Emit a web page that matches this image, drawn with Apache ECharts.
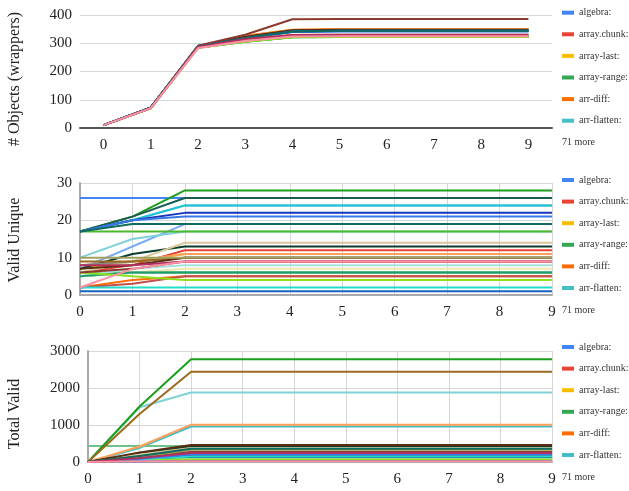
<!DOCTYPE html>
<html lang="en">
<head>
    <meta charset="UTF-8">
    <title>Objects / Valid Unique / Total Valid</title>
    <script type="text/javascript" src="https://cdn.jsdelivr.net/npm/echarts@6/dist/echarts.min.js"></script>
    <style>
        html, body { margin: 0; padding: 0; background: #fff; }
    </style>
</head>
<body>
<div id="main" style="width:629px;height:491px;"></div>
<script>
    // x steps shared by all three panels
    const steps = ['0', '1', '2', '3', '4', '5', '6', '7', '8', '9'];

    const seriesNames = [
        'algebra:', 'array.chunk:', 'array-last:', 'array-range:', 'arr-diff:', 'arr-flatten:',
        'pkg-7', 'pkg-8', 'pkg-9', 'pkg-10', 'pkg-11', 'pkg-12', 'pkg-13', 'pkg-14', 'pkg-15',
        'pkg-16', 'pkg-17', 'pkg-18', 'pkg-19', 'pkg-20', 'pkg-21', 'pkg-22', 'pkg-23', 'pkg-24',
        'pkg-25', 'pkg-26', 'pkg-27', 'pkg-28', 'pkg-29', 'pkg-30', 'pkg-31', 'pkg-32', 'pkg-33'
    ];
    const legendNames = seriesNames.slice(0, 6);
    const moreLabel = '71 more';

    // # Objects (wrappers)
    const objectsRows = [
        [10, 72, 288, 318, 340, 342, 342, 342, 342, 342],
        [10, 72, 290, 324, 346, 348, 348, 348, 348, 348],
        [10, 72, 290, 325, 347, 349, 349, 349, 349, 349],
        [10, 70, 284, 305, 321, 322, 322, 322, 322, 322],
        [10, 72, 290, 327, 348, 350, 350, 350, 350, 350],
        [10, 72, 289, 321, 344, 346, 346, 346, 346, 346],
        [10, 72, 288, 318, 340, 342, 342, 342, 342, 342],
        [10, 71, 287, 312, 327, 328, 328, 328, 328, 328],
        [10, 71, 286, 310, 326, 327, 327, 327, 327, 327],
        [10, 70, 284, 305, 321, 322, 322, 322, 322, 322],
        [10, 72, 290, 326, 347, 349, 349, 349, 349, 349],
        [10, 72, 288, 320, 343, 345, 345, 345, 345, 345],
        [10, 71, 287, 313, 328, 329, 329, 329, 329, 329],
        [10, 72, 288, 319, 342, 344, 344, 344, 344, 344],
        [10, 72, 289, 321, 344, 346, 346, 346, 346, 346],
        [10, 72, 288, 318, 341, 343, 343, 343, 343, 343],
        [10, 72, 289, 320, 343, 345, 345, 345, 345, 345],
        [10, 70, 285, 306, 322, 323, 323, 323, 323, 323],
        [10, 71, 287, 314, 330, 331, 331, 331, 331, 331],
        [10, 72, 288, 319, 342, 344, 344, 344, 344, 344],
        [10, 71, 286, 311, 326, 327, 327, 327, 327, 327],
        [10, 70, 285, 306, 322, 323, 323, 323, 323, 323],
        [10, 70, 284, 305, 321, 322, 322, 322, 322, 322],
        [10, 72, 289, 321, 344, 346, 346, 346, 346, 346],
        [10, 72, 290, 322, 345, 347, 347, 347, 347, 347],
        [10, 72, 290, 323, 346, 348, 348, 348, 348, 348],
        [10, 72, 291, 330, 385, 386, 386, 386, 386, 386],
        [10, 71, 287, 312, 328, 329, 329, 329, 329, 329],
        [10, 72, 288, 318, 341, 343, 343, 343, 343, 343],
        [10, 72, 288, 319, 342, 344, 344, 344, 344, 344],
        [10, 72, 288, 319, 342, 344, 344, 344, 344, 344],
        [10, 71, 287, 315, 329, 330, 330, 330, 330, 330],
        [10, 70, 283, 308, 324, 325, 325, 325, 325, 325]
    ];

    // Valid Unique
    const uniqueRows = [
        [26, 26, 26, 26, 26, 26, 26, 26, 26, 26],
        [6, 8, 12, 12, 12, 12, 12, 12, 12, 12],
        [7, 9, 11, 11, 11, 11, 11, 11, 11, 11],
        [5, 6, 6, 6, 6, 6, 6, 6, 6, 6],
        [2, 4, 5, 5, 5, 5, 5, 5, 5, 5],
        [17, 20, 24, 24, 24, 24, 24, 24, 24, 24],
        [7, 13, 19, 19, 19, 19, 19, 19, 19, 19],
        [2, 3, 5, 5, 5, 5, 5, 5, 5, 5],
        [5, 6, 7, 7, 7, 7, 7, 7, 7, 7],
        [6, 6, 6, 6, 6, 6, 6, 6, 6, 6],
        [8, 9, 11, 11, 11, 11, 11, 11, 11, 11],
        [10, 15, 17, 17, 17, 17, 17, 17, 17, 17],
        [17, 21, 28, 28, 28, 28, 28, 28, 28, 28],
        [17, 21, 26, 26, 26, 26, 26, 26, 26, 26],
        [17, 20, 24, 24, 24, 24, 24, 24, 24, 24],
        [17, 20, 22, 22, 22, 22, 22, 22, 22, 22],
        [7, 11, 13, 13, 13, 13, 13, 13, 13, 13],
        [17, 17, 17, 17, 17, 17, 17, 17, 17, 17],
        [6, 9, 14, 14, 14, 14, 14, 14, 14, 14],
        [8, 9, 10, 10, 10, 10, 10, 10, 10, 10],
        [5, 7, 8, 8, 8, 8, 8, 8, 8, 8],
        [5, 6, 6, 6, 6, 6, 6, 6, 6, 6],
        [6, 5, 4, 4, 4, 4, 4, 4, 4, 4],
        [2, 2, 2, 2, 2, 2, 2, 2, 2, 2],
        [9, 9, 10, 10, 10, 10, 10, 10, 10, 10],
        [7, 8, 10, 10, 10, 10, 10, 10, 10, 10],
        [6, 7, 9, 9, 9, 9, 9, 9, 9, 9],
        [10, 10, 10, 10, 10, 10, 10, 10, 10, 10],
        [17, 20, 21, 21, 21, 21, 21, 21, 21, 21],
        [1, 1, 1, 1, 1, 1, 1, 1, 1, 1],
        [17, 19, 19, 19, 19, 19, 19, 19, 19, 19],
        [8, 8, 9, 9, 9, 9, 9, 9, 9, 9],
        [2, 7, 9, 9, 9, 9, 9, 9, 9, 9]
    ];

    // Total Valid
    const totalRows = [
        [0, 60, 120, 120, 120, 120, 120, 120, 120, 120],
        [0, 100, 200, 200, 200, 200, 200, 200, 200, 200],
        [0, 150, 300, 300, 300, 300, 300, 300, 300, 300],
        [0, 80, 160, 160, 160, 160, 160, 160, 160, 160],
        [0, 90, 250, 250, 250, 250, 250, 250, 250, 250],
        [0, 380, 960, 960, 960, 960, 960, 960, 960, 960],
        [0, 50, 150, 150, 150, 150, 150, 150, 150, 150],
        [0, 100, 230, 230, 230, 230, 230, 230, 230, 230],
        [0, 120, 320, 320, 320, 320, 320, 320, 320, 320],
        [430, 430, 430, 430, 430, 430, 430, 430, 430, 430],
        [0, 420, 1010, 1010, 1010, 1010, 1010, 1010, 1010, 1010],
        [0, 1480, 1880, 1880, 1880, 1880, 1880, 1880, 1880, 1880],
        [0, 1500, 2780, 2780, 2780, 2780, 2780, 2780, 2780, 2780],
        [0, 180, 350, 350, 350, 350, 350, 350, 350, 350],
        [0, 70, 140, 140, 140, 140, 140, 140, 140, 140],
        [0, 60, 110, 110, 110, 110, 110, 110, 110, 110],
        [0, 230, 420, 420, 420, 420, 420, 420, 420, 420],
        [0, 50, 90, 90, 90, 90, 90, 90, 90, 90],
        [0, 200, 380, 380, 380, 380, 380, 380, 380, 380],
        [0, 120, 260, 260, 260, 260, 260, 260, 260, 260],
        [0, 40, 80, 80, 80, 80, 80, 80, 80, 80],
        [0, 100, 180, 180, 180, 180, 180, 180, 180, 180],
        [0, 40, 70, 70, 70, 70, 70, 70, 70, 70],
        [0, 80, 150, 150, 150, 150, 150, 150, 150, 150],
        [0, 1300, 2440, 2440, 2440, 2440, 2440, 2440, 2440, 2440],
        [0, 260, 460, 460, 460, 460, 460, 460, 460, 460],
        [0, 150, 270, 270, 270, 270, 270, 270, 270, 270],
        [0, 130, 330, 330, 330, 330, 330, 330, 330, 330],
        [0, 90, 200, 200, 200, 200, 200, 200, 200, 200],
        [0, 20, 30, 30, 30, 30, 30, 30, 30, 30],
        [0, 160, 360, 360, 360, 360, 360, 360, 360, 360],
        [0, 110, 240, 240, 240, 240, 240, 240, 240, 240],
        [0, 20, 20, 20, 20, 20, 20, 20, 20, 20]
    ];

    const palette = [
        '#4285F4', '#EA4335', '#FBBC04', '#34A853', '#FF6D01', '#46BDC6',
        '#7BAAF7', '#C0504D', '#EEE8AA', '#71C287', '#FFA15A', '#7ED1D7',
        '#1AA01A', '#1B5E50', '#1FC3D8', '#1536B8', '#0B3D2E', '#4CB82A',
        '#D8C99B', '#8B8B83', '#A8E0DC', '#1E9E6E', '#8FE020', '#22DDC8',
        '#9C6A1E', '#5A2D12', '#8B3A2E', '#A0A060', '#3B78E7', '#1565C0',
        '#0F6B5C', '#B03060', '#FF8FA3'
    ];

    const FONT = '"Liberation Serif", "Times New Roman", serif';
    const panels = [
        {rows: objectsRows, top: 15, height: 113, left: 80, max: 400, step: 100, gap: true, title: '# Objects (wrappers)', titleY: 79, legendY: 12.7},
        {rows: uniqueRows, top: 183, height: 112, left: 80, max: 30, step: 10, gap: false, title: 'Valid Unique', titleY: 240, legendY: 180},
        {rows: totalRows, top: 351, height: 111, left: 88, max: 3000, step: 1000, gap: false, title: 'Total Valid', titleY: 414, legendY: 347}
    ];

    let grids = [], xAxes = [], yAxes = [], series = [], legends = [], graphics = [];

    panels.forEach(function (p, i) {
        grids.push({left: p.left, right: 77, top: p.top, height: p.height});
        xAxes.push({
            type: 'category', gridIndex: i, data: steps, boundaryGap: p.gap,
            axisTick: {show: false},
            axisLine: {show: true, lineStyle: {color: p.gap ? '#555' : '#aaa', width: 2}},
            axisLabel: {fontFamily: FONT, fontSize: 15, color: '#222', margin: 10},
            splitLine: {show: !p.gap, lineStyle: {color: '#d6d6d6', width: 1}}
        });
        yAxes.push({
            type: 'value', gridIndex: i, min: 0, max: p.max, interval: p.step,
            axisLine: {show: !p.gap, lineStyle: {color: '#aaa', width: 2}},
            axisTick: {show: false},
            axisLabel: {fontFamily: FONT, fontSize: 15, color: '#222', margin: 8, formatter: function (v) { return String(v); }},
            splitLine: {show: true, lineStyle: {color: '#d6d6d6', width: 1}}
        });
        p.rows.forEach(function (vals, k) {
            series.push({
                name: seriesNames[k], type: 'line', xAxisIndex: i, yAxisIndex: i,
                data: vals, showSymbol: false, symbol: 'none',
                color: palette[k], lineStyle: {width: 2}
            });
        });
        legends.push({
            data: legendNames, orient: 'vertical', left: 562, top: p.legendY - 5, padding: 0,
            itemWidth: 12, itemHeight: 4, itemGap: 11.6, icon: 'rect',
            textStyle: {fontFamily: FONT, fontSize: 10, color: '#333', lineHeight: 10}
        });
        graphics.push({
            type: 'text', left: 562, top: p.legendY + 125,
            style: {text: moreLabel, font: '10px ' + FONT, fill: '#333'}
        });
        graphics.push({
            type: 'text', x: 15, y: p.titleY, rotation: Math.PI / 2,
            style: {text: p.title, font: '16px ' + FONT, fill: '#222', align: 'center', verticalAlign: 'middle'}
        });
    });

    let myChart = echarts.init(document.getElementById('main'));
    myChart.setOption({
        animation: false,
        backgroundColor: '#fff',
        grid: grids,
        xAxis: xAxes,
        yAxis: yAxes,
        legend: legends,
        graphic: graphics,
        series: series
    });
</script>
</body>
</html>
